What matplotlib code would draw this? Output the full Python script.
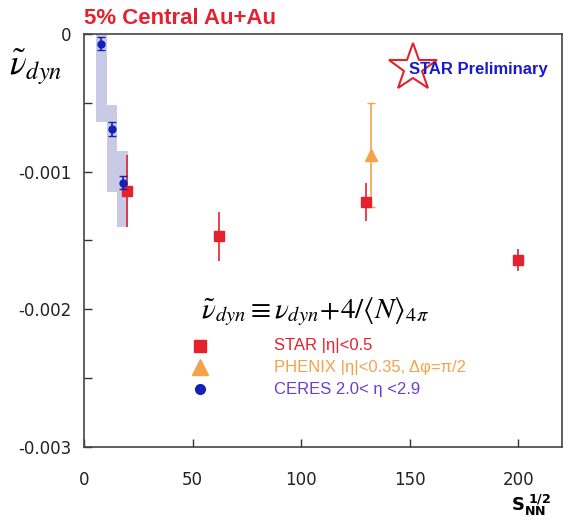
import matplotlib
matplotlib.use("Agg")
import matplotlib.pyplot as plt
from matplotlib.patches import Rectangle

# data
ceres_x = [8.0, 13.0, 17.8]
ceres_y = [-0.00007, -0.00069, -0.00108]
ceres_err = [0.00005, 0.00005, 0.00005]
ceres_sys_lo = [-0.00064, -0.00115, -0.00140]
ceres_sys_hi = [0.0, -0.00052, -0.00085]

star_x = [19.6, 62.4, 130.0, 200.0]
star_y = [-0.00114, -0.00147, -0.00122, -0.00164]
star_err = [0.00026, 0.00018, 0.00014, 0.00008]

phenix_x = [132.0]
phenix_y = [-0.00088]
phenix_err = [0.00038]

xticks = [0, 50, 100, 150, 200]
xtick_labels = ["0", "50", "100", "150", "200"]
yticks = [0, -0.001, -0.002, -0.003]
ytick_labels = ["0", "-0.001", "-0.002", "-0.003"]

legend_labels = ["STAR |\u03b7|<0.5",
                 "PHENIX |\u03b7|<0.35, \u0394\u03c6=\u03c0/2",
                 "CERES 2.0< \u03b7 <2.9"]

RED = "#e3222e"
ORANGE = "#f6a24a"
BLUE = "#1420b8"
BOX = "#c9cbe6"

plt.rcParams["mathtext.fontset"] = "stix"
plt.rcParams["axes.unicode_minus"] = False

fig = plt.figure(figsize=(5.71, 5.21), dpi=100)
ax = fig.add_axes([0.147, 0.142, 0.837, 0.793])

# CERES systematic boxes
for x, lo, hi in zip(ceres_x, ceres_sys_lo, ceres_sys_hi):
    ax.add_patch(Rectangle((x - 2.4, lo), 4.8, hi - lo, facecolor=BOX,
                           edgecolor="none", zorder=1))

ax.errorbar(star_x, star_y, yerr=star_err, fmt="s", color=RED, ms=7,
            elinewidth=1.2, capsize=0, zorder=3)
ax.errorbar(phenix_x, phenix_y, yerr=phenix_err, fmt="^", color=ORANGE, ms=9,
            elinewidth=1.2, capsize=3, capthick=1, zorder=2)
ax.errorbar(ceres_x, ceres_y, yerr=ceres_err, fmt="o", color=BLUE, ms=5,
            elinewidth=1.2, capsize=3, capthick=1, zorder=4)

ax.set_xlim(0, 220)
ax.set_ylim(-0.003, 0)
ax.set_xticks(xticks, xtick_labels)
ax.set_yticks(yticks, ytick_labels)
ax.set_yticks([-0.0005, -0.0015, -0.0025], minor=True)
ax.tick_params(axis="both", direction="in", length=6, width=1, color="#333333",
               labelsize=12, labelcolor="#222222")
ax.tick_params(axis="y", which="minor", direction="in", length=6, width=1,
               color="#333333")
ax.tick_params(axis="y", pad=9)
ax.tick_params(axis="x", pad=17)
for s in ax.spines.values():
    s.set_color("#444444")
    s.set_linewidth(1.2)

# formula and legend
ax.text(0.483, 0.327, r"$\tilde{\nu}_{dyn} \equiv \nu_{dyn}\!+\!4/\langle N\rangle_{4\pi}$",
        transform=ax.transAxes, ha="center", va="center", fontsize=21)
leg_marks = [("s", RED, 8), ("^", ORANGE, 11), ("o", BLUE, 7)]
leg_colors = [RED, ORANGE, "#6a3fd0"]
leg_y = [0.245, 0.193, 0.140]
for (m, c, ms), tc, y, lab in zip(leg_marks, leg_colors, leg_y, legend_labels):
    ax.plot([0.243], [y], marker=m, color=c, ms=ms, transform=ax.transAxes,
            linestyle="none")
    ax.text(0.397, y, lab, color=tc, transform=ax.transAxes, va="center",
            fontsize=12, family="Liberation Sans")

# STAR Preliminary logo
ax.plot([0.688], [0.918], marker="*", ms=36, mfc="white", mec=RED, mew=1.5,
        transform=ax.transAxes, linestyle="none", zorder=5)
ax.text(0.68, 0.914, "STAR Preliminary", color="#1a1acc", fontweight="bold",
        fontsize=12, family="Liberation Sans", transform=ax.transAxes,
        va="center", zorder=6)

# titles / axis labels
fig.text(0.147, 0.965, "5% Central Au+Au", color=RED, fontweight="bold",
         fontsize=16, family="Liberation Sans", va="center", ha="left")
fig.text(0.015, 0.87, r"$\tilde{\nu}_{dyn}$", fontsize=25, va="center")
fig.text(0.895, 0.03, r"$\mathbf{S}_{\mathbf{NN}}^{\ \mathbf{1/2}}$",
         fontsize=13, math_fontfamily="dejavusans", va="center")

fig.savefig("out.png", dpi=100)
